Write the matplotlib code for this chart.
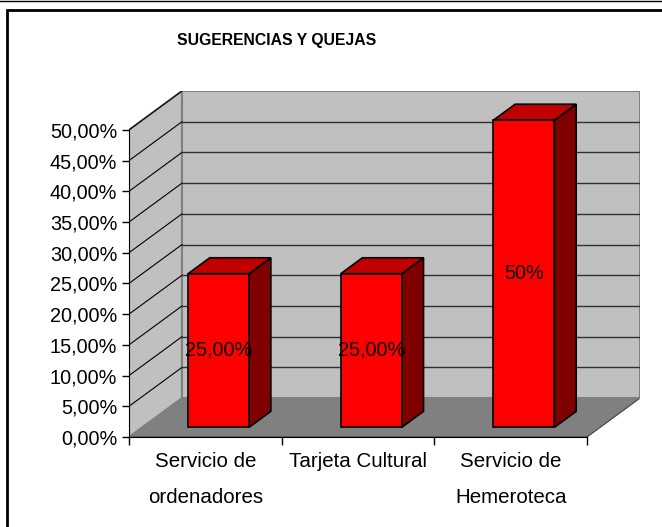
import matplotlib
matplotlib.use('Agg')
import matplotlib.pyplot as plt
from matplotlib.patches import Polygon, Rectangle
from matplotlib.lines import Line2D

# data
categories = ['Servicio de\nordenadores', 'Tarjeta Cultural', 'Servicio de\nHemeroteca']
values = [0.25, 0.25, 0.50]
value_labels = ['25,00%', '25,00%', '50%']
y_ticks = [0.0, 0.05, 0.10, 0.15, 0.20, 0.25, 0.30, 0.35, 0.40, 0.45, 0.50]
title = 'SUGERENCIAS Y QUEJAS'

plt.rcParams['font.family'] = ['Liberation Sans', 'DejaVu Sans']

fig = plt.figure(figsize=(6.62, 5.27), dpi=100)

# oblique depth (in data units)
DX = 0.347
DY = 0.0633
ymax = 0.5
n = len(categories)

ax = fig.add_axes([129 / 662, 1 - 437 / 527, 511 / 662, 346 / 527])
ax.set_xlim(0, n + DX)
ax.set_ylim(0, ymax + DY)
ax.patch.set_visible(False)


def proj(x, y, f):
    # x along categories, y value, f depth fraction 0..1
    return (x + f * DX, y + f * DY)


wall_edge = '#808080'
# floor
ax.add_patch(Polygon([proj(0, 0, 0), proj(n, 0, 0), proj(n, 0, 1), proj(0, 0, 1)],
                     closed=True, facecolor='#808080', edgecolor='#404040', lw=0.8, zorder=1))
# left wall
ax.add_patch(Polygon([proj(0, 0, 0), proj(0, ymax, 0), proj(0, ymax, 1), proj(0, 0, 1)],
                     closed=True, facecolor='#C0C0C0', edgecolor=wall_edge, lw=1.5, zorder=1))
# back wall
ax.add_patch(Polygon([proj(0, 0, 1), proj(n, 0, 1), proj(n, ymax, 1), proj(0, ymax, 1)],
                     closed=True, facecolor='#C0C0C0', edgecolor=wall_edge, lw=1.5, zorder=1))

# gridlines
for v in y_ticks[1:]:
    x0, y0 = proj(0, v, 0)
    x1, y1 = proj(0, v, 1)
    x2, y2 = proj(n, v, 1)
    ax.add_line(Line2D([x0, x1], [y0, y1], color='black', lw=0.8, zorder=2))
    if v < ymax:
        ax.add_line(Line2D([x1, x2], [y1, y2], color='#303030', lw=1.0, zorder=2))

# bars
bar_w = 0.4
f1, f2 = 0.25, 0.66
for i, v in enumerate(values):
    xl = i + 0.5 - bar_w / 2
    xr = i + 0.5 + bar_w / 2
    front = [proj(xl, 0, f1), proj(xr, 0, f1), proj(xr, v, f1), proj(xl, v, f1)]
    side = [proj(xr, 0, f1), proj(xr, 0, f2), proj(xr, v, f2), proj(xr, v, f1)]
    top = [proj(xl, v, f1), proj(xr, v, f1), proj(xr, v, f2), proj(xl, v, f2)]
    ax.add_patch(Polygon(side, closed=True, facecolor='#800000', edgecolor='black', lw=1.2, zorder=3))
    ax.add_patch(Polygon(top, closed=True, facecolor='#C00000', edgecolor='black', lw=1.2, zorder=3))
    ax.add_patch(Polygon(front, closed=True, facecolor='#FF0000', edgecolor='black', lw=1.2, zorder=4))
    cx, cy = proj(i + 0.5, v / 2, f1)
    ax.text(cx, cy, value_labels[i], ha='center', va='center', fontsize=14.3, zorder=5)

# axes
for s in ['top', 'right']:
    ax.spines[s].set_visible(False)
ax.spines['left'].set_bounds(0, ymax)
ax.spines['bottom'].set_bounds(0, n)
ax.spines['left'].set_zorder(6)
ax.spines['bottom'].set_zorder(6)
ax.set_yticks(y_ticks)
ax.set_yticklabels([('%.2f%%' % (t * 100)).replace('.', ',') for t in y_ticks], fontsize=14.3)
ax.tick_params(axis='y', length=5, width=1, pad=3.5, direction='out')
ax.set_xticks(range(n + 1))
ax.set_xticklabels([''] * (n + 1))
ax.set_xticks([i + 0.5 for i in range(n)], minor=True)
ax.set_xticklabels(categories, minor=True, fontsize=14.8, linespacing=2.1)
ax.tick_params(axis='x', which='minor', length=0, pad=11)
ax.tick_params(axis='x', which='major', length=6, width=1, direction='out')

# title
fig.text(277 / 662, 1 - 40 / 527, title, ha='center', va='center', fontsize=11.3,
         fontweight='bold')

# chart frame
fig.add_artist(Rectangle((7 / 662, -0.05), 1.0, 1 - 10 / 527 + 0.05, transform=fig.transFigure,
                         fill=False, edgecolor='black', lw=2))
fig.add_artist(Line2D([0, 1], [1 - 0.5 / 527, 1 - 0.5 / 527], transform=fig.transFigure,
                      color='black', lw=1))

fig.savefig('out.png', dpi=100)
